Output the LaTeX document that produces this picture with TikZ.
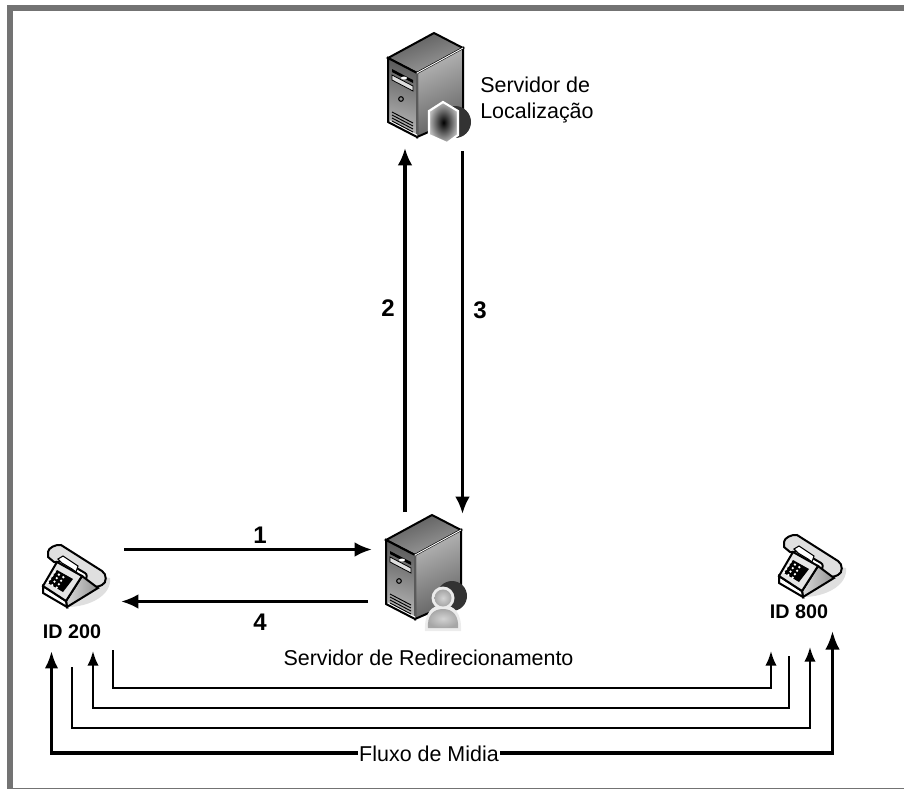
\documentclass[tikz,border=0pt]{standalone}
\usepackage{fontspec}
\setmainfont{Liberation Sans}
\usetikzlibrary{arrows.meta,shapes.geometric}
\begin{document}
\begin{tikzpicture}[
  x=0.75pt,y=-0.75pt,
  anchorpt/.style={inner sep=0pt,minimum size=0pt},
  caption/.style={inner sep=0pt,align=left,font=\fontsize{16.1}{19.5}\selectfont},
  idlabel/.style={inner sep=0pt,font=\fontsize{14.8}{15}\selectfont\bfseries},
  stepnum/.style={inner sep=0pt,font=\fontsize{18}{18}\selectfont\bfseries},
  msg/.style={draw,line width=2.3pt,-{Latex[length=13pt,width=11pt]}},
  thinflow/.style={draw,line width=1.6pt,-{Latex[length=11pt,width=8.5pt]}},
  thickflow/.style={draw,line width=2.3pt,{Latex[length=13pt,width=10pt]}-{Latex[length=14pt,width=11pt]}},
  pics/serverbox/.style={code={
    \draw[line width=1.5pt,left color=black!65,right color=black!38,shading angle=20]
      (0,0) -- (29,15) -- (-17,40) -- (-46,25) -- cycle;
    \draw[line width=1.5pt,top color=black!65,bottom color=black!28,shading angle=-15]
      (-46,25) -- (-17,40) -- (-17,104) -- (-46,89) -- cycle;
    \draw[line width=1.5pt,left color=black!28,right color=black!62,shading angle=25]
      (-17,40) -- (29,15) -- (29,84) -- (-17,104) -- cycle;
    \draw[white,line width=0.7pt] (-17,103) -- (-17,40) -- (29,15);
    \draw[white,line width=0.7pt] (-44,88) -- (-17,102);
    \fill[black] (-42,36) -- (-21,47) -- (-21,50) -- (-42,39) -- cycle;
    \draw[black,fill=gray!25,line width=0.6pt] (-42,42) -- (-21,53) -- (-21,58) -- (-42,47) -- cycle;
    \fill[white] (-30,45) ellipse (3 and 1.5);
    \draw[line width=0.8pt] (-33,66) circle (2.3);
    \foreach \k in {0,3,6,9}
      \draw[line width=0.7pt] (-42,79+\k) -- (-21,90+\k);
  }},
  pics/shieldbadge/.style={code={
    \fill[black!80] (21,89) circle (16);
    \draw[white,line width=1.6pt,inner color=black,outer color=gray!55]
      (9,69) -- (24,78) -- (24,102) -- (13,110) -- (-5,102) -- (-5,78) -- cycle;
  }},
  pics/userbadge/.style={code={
    \fill[black!80] (20,81) circle (15);
    \fill[gray!15] (11,83) circle (11.5);
    \fill[gray!15] (-7,116) .. controls (-8,98) and (0,90) .. (11,90)
      .. controls (22,90) and (30,98) .. (29,116) -- cycle;
    \shade[inner color=gray!35,outer color=gray!70] (11,83) circle (8.5);
    \shade[inner color=gray!35,outer color=gray!70] (-4,113) .. controls (-5,101) and (1,94) .. (11,94)
      .. controls (21,94) and (27,101) .. (26,113) -- cycle;
  }},
  pics/phonebox/.style={code={
    \fill[gray!25] (7,62) .. controls (30,62) and (52,50) .. (50,33) -- (30,30) -- cycle;
    \draw[line width=1.5pt,fill=gray!25] (-12,7) .. controls (-12,3) and (-4,-1) .. (1,0)
      -- (42,26) .. controls (47,29) and (47,38) .. (42,40)
      .. controls (34,44) and (27,41) .. (26,36) .. controls (26,32) and (28,30) .. (25,28)
      -- (3,15) .. controls (-2,17) and (-4,18) .. (-6,17) -- (-12,12) -- cycle;
    \draw[line width=1.5pt,left color=gray!30,right color=gray!85]
      (6,56) -- (22,31) -- (38,43) -- (7,62) -- cycle;
    \draw[line width=1.5pt,fill=white] (-17,41) -- (6,56) -- (7,62) -- (-17,48) -- cycle;
    \draw[line width=1.5pt,fill=gray!20] (-17,41) -- (-3,17) -- (22,31) -- (6,56) -- cycle;
    \draw[line width=0.8pt,fill=white] (-2,14) -- (3,11) -- (18,21) -- (16,27) -- (12,24) -- (2,18) -- cycle;
    \fill[black] (-3,25) -- (13,34) -- (3,47) -- (-12,38) -- cycle;
    \foreach \i in {0,1,2} \foreach \j in {0,1,2,3}
      \fill[white] (-5.5+4.4*\i-2.2*\j,27+2.6*\i+3.5*\j) circle (1.3);
  }}]
% frame
\useasboundingbox (0,0) rectangle (904,789);
\fill[gray!90!black] (7,5) rectangle (904,11);
\fill[gray!90!black] (7,5) rectangle (13,789);
\fill[gray!90!black] (7,787.5) rectangle (904,789);
% icons
\node[anchorpt] (srvloc) at (434,33) {};
\pic at (srvloc) {serverbox};
\pic at (srvloc) {shieldbadge};
\node[anchorpt] (srvred) at (432,515) {};
\pic at (srvred) {serverbox};
\pic at (srvred) {userbadge};
\node[anchorpt] (tel200) at (60,545) {};
\pic at (tel200) {phonebox};
\node[anchorpt] (tel800) at (796,535) {};
\pic at (tel800) {phonebox};
% texts
\node[caption,anchor=west] (txtloc) at (480,100) {Servidor de\\Localização};
\node[caption] (txtred) at (428.5,658) {Servidor de Redirecionamento};
\node[idlabel] (id200) at (72,632) {ID 200};
\node[idlabel] (id800) at (799,612) {ID 800};
\node[stepnum] (num1) at (260,535) {1};
\node[stepnum] (num2) at (388,308) {2};
\node[stepnum] (num3) at (480,310) {3};
\node[stepnum] (num4) at (260,622) {4};
% connector ends
\coordinate (up0) at (405,512);
\coordinate (up1) at (405,148);
\coordinate (dn0) at (462.5,151);
\coordinate (dn1) at (462.5,514);
\coordinate (req0) at (124,549.5);
\coordinate (req1) at (372,549.5);
\coordinate (ans0) at (368,601.5);
\coordinate (ans1) at (121,601.5);
\coordinate (fa0) at (113,650);
\coordinate (fa1) at (771,651);
\coordinate (fb0) at (789,656);
\coordinate (fb1) at (93,651);
\coordinate (fc0) at (72,667);
\coordinate (fc1) at (810,647);
\coordinate (fd0) at (51.5,651);
\coordinate (fd1) at (832.5,631);
% connectors
\draw[msg] (up0) -- (up1);
\draw[msg] (dn0) -- (dn1);
\draw[msg] (req0) -- (req1);
\draw[msg] (ans0) -- (ans1);
\draw[thinflow] (fa0) |- (771,688) -- (fa1);
\draw[thinflow] (fb0) |- (93,708) -- (fb1);
\draw[thinflow] (fc0) |- (810,728) -- (fc1);
\draw[thickflow] (fd0) |- (832.5,753) -- (fd1);
\node[caption,fill=white,inner xsep=1pt,inner ysep=0pt] (fluxo) at (429,754) {Fluxo de Midia};
\end{tikzpicture}
\end{document}
